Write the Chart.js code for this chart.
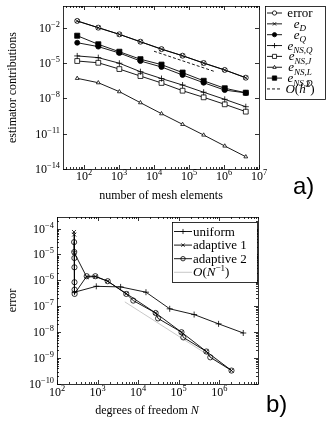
<!DOCTYPE html>
<html>
<head>
<meta charset="utf-8">
<script src="https://cdn.jsdelivr.net/npm/chart.js@4.4.0/dist/chart.umd.min.js"></script>
<style>
  html, body { margin: 0; padding: 0; background: #fff; }
  #wrap { position: relative; width: 327px; height: 425px; overflow: hidden; }
  .panel { position: absolute; left: 0; width: 327px; }
  .tag { position: absolute; font-family: "Liberation Sans", Arial, sans-serif; font-size: 24px; line-height: 24px; color: #000; }
</style>
</head>
<body>
<div id="wrap">
  <div class="panel" style="top:0;height:205px"><canvas id="topChart" width="327" height="205"></canvas></div>
  <div class="panel" style="top:205px;height:220px"><canvas id="botChart" width="327" height="220"></canvas></div>
  <div class="tag" style="left:293px;top:174px">a)</div>
  <div class="tag" style="left:266px;top:392px">b)</div>
</div>
<script>
// ---- data, panel a) ----
const meshElements = [64, 256, 1024, 4096, 16384, 65536, 262144, 1048576, 4194304];
const errorEst = [4.0e-2, 1.07e-2, 2.9e-3, 6.8e-4, 1.6e-4, 4.4e-5, 1.05e-5, 2.7e-6, 5.9e-7];
const eD = [3.9e-2, 1.05e-2, 2.85e-3, 6.7e-4, 1.58e-4, 4.3e-5, 1.03e-5, 2.65e-6, 5.8e-7];
const eQ = [5.6e-4, 2.6e-4, 7.4e-5, 1.55e-5, 4.8e-6, 1.0e-6, 2.2e-7, 5.2e-8, 3.0e-8];
const eNSQ = [4.2e-5, 3.0e-5, 1.0e-5, 1.9e-6, 5.0e-7, 1.4e-7, 3.4e-8, 8.5e-9, 2.0e-9];
const eNSJ = [1.55e-5, 1.1e-5, 3.2e-6, 8.1e-7, 2.1e-7, 4.6e-8, 1.26e-8, 3.2e-9, 7.6e-10];
const eNSL = [5.2e-7, 2.2e-7, 3.8e-8, 4.4e-9, 5.1e-10, 6.3e-11, 7.8e-12, 9.1e-13, 1.1e-13];
const eNSD = [2.2e-3, 4.1e-4, 9.5e-5, 2.2e-5, 7.6e-6, 1.6e-6, 3.2e-7, 7.4e-8, 3.1e-8];
const orderH2Elems = [1.0e4, 5.6e5];
const orderH2 = [1.05e-4, 1.9e-6];
const topXExps = [2, 3, 4, 5, 6, 7];
const topYExps = [-2, -5, -8, -11, -14];

// ---- data, panel b) ----
const uniformDofs = [270, 930, 3700, 15600, 60000, 240000, 960000, 3.9e6];
const uniformErr = [3.5e-7, 5.9e-7, 5.6e-7, 3.5e-7, 8.0e-8, 4.8e-8, 2.1e-8, 9.3e-9];
const adaptive1Dofs = [262, 265, 268, 540, 880, 1780, 5100, 27000, 117000, 480000, 2.0e6];
const adaptive1Err = [7.4e-5, 5.9e-5, 1.15e-5, 1.35e-6, 1.4e-6, 9.3e-7, 3.1e-7, 5.5e-8, 1.0e-8, 1.8e-9, 3.3e-10];
const adaptive2Dofs = [264, 266, 268, 269, 270, 271, 272, 540, 880, 1780, 5100, 7600, 27000, 31000, 117000, 130000, 480000, 600000, 2.0e6];
const adaptive2Err = [3.0e-5, 1.25e-5, 7.3e-6, 3.2e-6, 8.5e-7, 4.4e-7, 3.0e-7, 1.45e-6, 1.45e-6, 9.3e-7, 3.0e-7, 1.66e-7, 5.5e-8, 3.4e-8, 1.0e-8, 6.3e-9, 1.8e-9, 1.07e-9, 3.3e-10];
const orderNDofs = [4700, 2.0e6];
const orderNErr = [1.48e-7, 3.5e-10];
const botXExps = [2, 3, 4, 5, 6];
const botYExps = [-4, -5, -6, -7, -8, -9, -10];

const SERIF = '"Liberation Serif", "Times New Roman", serif';

function fontFor(p, size) {
  const s = (p.sub || p.sup) ? size * 0.7 : size;
  return (p.it ? 'italic ' : '') + s.toFixed(1) + 'px ' + SERIF;
}

// text with sub/superscripts
function drawRich(ctx, parts, x, y, size, align) {
  let w = 0;
  parts.forEach(p => { ctx.font = fontFor(p, size); w += ctx.measureText(p.t).width; });
  let cx = align === 'center' ? x - w / 2 : align === 'right' ? x - w : x;
  ctx.textAlign = 'left';
  ctx.textBaseline = 'alphabetic';
  parts.forEach(p => {
    ctx.font = fontFor(p, size);
    const dy = p.sub ? size * 0.28 : p.sup ? -size * 0.42 : 0;
    ctx.fillText(p.t, cx, y + dy);
    cx += ctx.measureText(p.t).width;
  });
}

function expLabel(e) {
  return [{ t: '10' }, { t: String(e).replace('-', '\u2212'), sup: true }];
}

function logTickList(min, max, majorExps, minor) {
  const out = [];
  for (let e = Math.floor(Math.log10(min)); e <= Math.ceil(Math.log10(max)); e++) {
    for (let k = 1; k <= 9; k++) {
      const v = k * Math.pow(10, e);
      if (v < min * 0.999 || v > max * 1.001) continue;
      if (k === 1 && majorExps.includes(e)) out.push({ v, major: true });
      else if (minor) out.push({ v, major: false });
    }
  }
  return out;
}

function drawMarker(ctx, style, x, y, r, fill) {
  ctx.beginPath();
  if (style === 'circle') {
    ctx.arc(x, y, r, 0, Math.PI * 2);
  } else if (style === 'rect') {
    const s = r * Math.SQRT1_2;
    ctx.rect(x - s, y - s, 2 * s, 2 * s);
  } else if (style === 'triangle') {
    ctx.moveTo(x, y - r); ctx.lineTo(x + r * 0.9, y + r * 0.6); ctx.lineTo(x - r * 0.9, y + r * 0.6); ctx.closePath();
  } else if (style === 'cross') {
    ctx.moveTo(x - r, y); ctx.lineTo(x + r, y); ctx.moveTo(x, y - r); ctx.lineTo(x, y + r);
  } else if (style === 'crossRot') {
    const d = r * 0.7;
    ctx.moveTo(x - d, y - d); ctx.lineTo(x + d, y + d); ctx.moveTo(x + d, y - d); ctx.lineTo(x - d, y + d);
  }
  if (fill && style !== 'cross' && style !== 'crossRot') { ctx.fillStyle = fill; ctx.fill(); }
  ctx.stroke();
}

// box, inward tick marks, tick labels, legend
const framePlugin = {
  id: 'frame',
  afterDraw(chart, args, o) {
    const ctx = chart.ctx, a = chart.chartArea;
    const xs = chart.scales.x, ys = chart.scales.y;
    ctx.save();
    ctx.strokeStyle = '#000';
    ctx.fillStyle = '#000';
    ctx.lineWidth = 0.8;
    ctx.strokeRect(a.left + 0.5, a.top + 0.5, a.right - a.left, a.bottom - a.top);
    ctx.beginPath();
    logTickList(xs.min, xs.max, o.xExps, true).forEach(t => {
      const px = Math.round(xs.getPixelForValue(t.v)) + 0.5, len = t.major ? 4 : 2;
      ctx.moveTo(px, a.bottom); ctx.lineTo(px, a.bottom - len);
      ctx.moveTo(px, a.top); ctx.lineTo(px, a.top + len);
    });
    logTickList(ys.min, ys.max, o.yExps, o.yMinor).forEach(t => {
      const py = Math.round(ys.getPixelForValue(t.v)) + 0.5, len = t.major ? 4 : 2;
      ctx.moveTo(a.left, py); ctx.lineTo(a.left + len, py);
      ctx.moveTo(a.right, py); ctx.lineTo(a.right - len, py);
    });
    ctx.stroke();
    o.xExps.forEach(e => drawRich(ctx, expLabel(e), xs.getPixelForValue(Math.pow(10, e)), o.xLabelY, 12, 'center'));
    o.yExps.forEach(e => drawRich(ctx, expLabel(e), a.left - 3, ys.getPixelForValue(Math.pow(10, e)) + 4, 12, 'right'));
    if (o.xTitle) drawRich(ctx, o.xTitle.parts, o.xTitle.x, o.xTitle.y, 12, 'center');

    // legend
    const L = o.legend;
    ctx.fillStyle = '#fff';
    ctx.fillRect(L.box[0], L.box[1], L.box[2] - L.box[0], L.box[3] - L.box[1]);
    ctx.strokeStyle = '#000';
    ctx.lineWidth = 0.8;
    ctx.strokeRect(L.box[0] + 0.5, L.box[1] + 0.5, L.box[2] - L.box[0], L.box[3] - L.box[1]);
    L.items.forEach((it, i) => {
      const y = L.y0 + i * L.step;
      const ds = chart.data.datasets[it.ds];
      ctx.strokeStyle = ds.borderColor;
      ctx.lineWidth = ds.borderWidth;
      ctx.setLineDash(ds.borderDash || []);
      ctx.beginPath();
      ctx.moveTo(L.sample[0], y); ctx.lineTo(L.sample[1], y);
      ctx.stroke();
      ctx.setLineDash([]);
      if (ds.pointStyle) {
        ctx.lineWidth = 0.8;
        drawMarker(ctx, ds.pointStyle, (L.sample[0] + L.sample[1]) / 2, y, ds.pointRadius * 0.85, ds.pointBackgroundColor);
      }
      ctx.fillStyle = '#000';
      drawRich(ctx, it.label, L.textX, y + 4, 13, L.align);
    });
    ctx.restore();
  }
};

function series(label, xs, ys, st) {
  return {
    label,
    data: xs.map((x, i) => ({ x, y: ys[i] })),
    borderColor: st.color || '#000',
    borderWidth: st.width || 0.9,
    borderDash: st.dash || [],
    pointStyle: st.point || false,
    pointRadius: st.point ? (st.radius || 2.5) : 0,
    pointBorderWidth: 0.8,
    pointBackgroundColor: st.fill || 'rgba(0,0,0,0)',
    pointBorderColor: st.color || '#000',
    tension: 0
  };
}

function logAxis(min, max, size, title, axis) {
  return {
    type: 'logarithmic',
    min, max,
    bounds: 'data',
    grid: { display: false },
    border: { display: false },
    ticks: { display: false },
    title: title ? {
      display: true, text: title.text, color: '#000',
      font: { family: SERIF, size: 12 },
      padding: { top: title.pad, bottom: title.pad }
    } : { display: false },
    afterFit: s => { if (axis === 'x') s.height = size; else s.width = size; }
  };
}

const common = {
  responsive: false,
  animation: false,
  devicePixelRatio: 1,
  events: [],
  plugins: { legend: { display: false }, tooltip: { enabled: false } }
};

const bigO = [{ t: 'O', it: true }];

// ---- panel a) ----
new Chart(document.getElementById('topChart'), {
  type: 'line',
  data: {
    datasets: [
      series('e_D', meshElements, eD, { point: 'crossRot', radius: 2.8 }),
      series('error', meshElements, errorEst, { point: 'circle', fill: '#fff' }),
      series('e_NS,D', meshElements, eNSD, { point: 'rect', radius: 3.6, fill: '#000' }),
      series('e_Q', meshElements, eQ, { point: 'circle', fill: '#000' }),
      series('e_NS,Q', meshElements, eNSQ, { point: 'cross', radius: 3 }),
      series('e_NS,J', meshElements, eNSJ, { point: 'rect', radius: 3.4, fill: '#fff' }),
      series('e_NS,L', meshElements, eNSL, { point: 'triangle', radius: 2.2, fill: '#fff' }),
      series('O(h^2)', orderH2Elems, orderH2, { dash: [3, 2] })
    ]
  },
  options: {
    ...common,
    layout: { padding: { left: 0, right: 68, top: 6, bottom: 0 } },
    scales: {
      x: logAxis(Math.pow(10, 1.4), 1e7, 36, { text: 'number of mesh elements', pad: 2 }, 'x'),
      y: logAxis(1e-14, 0.745, 63, { text: 'estimator contributions', pad: 6 }, 'y')
    },
    plugins: {
      ...common.plugins,
      frame: {
        xExps: topXExps, yExps: topYExps, yMinor: false, xLabelY: 180,
        legend: {
          box: [265, 6, 325, 99], y0: 13, step: 10.85, sample: [267, 282], textX: 300, align: 'center',
          items: [
            { ds: 1, label: [{ t: 'error' }] },
            { ds: 0, label: [{ t: 'e', it: true }, { t: 'D', it: true, sub: true }] },
            { ds: 3, label: [{ t: 'e', it: true }, { t: 'Q', it: true, sub: true }] },
            { ds: 4, label: [{ t: 'e', it: true }, { t: 'NS,Q', it: true, sub: true }] },
            { ds: 5, label: [{ t: 'e', it: true }, { t: 'NS,J', it: true, sub: true }] },
            { ds: 6, label: [{ t: 'e', it: true }, { t: 'NS,L', it: true, sub: true }] },
            { ds: 2, label: [{ t: 'e', it: true }, { t: 'NS,D', it: true, sub: true }] },
            { ds: 7, label: [...bigO, { t: '(' }, { t: 'h', it: true }, { t: '2', sup: true }, { t: ')' }] }
          ]
        }
      }
    }
  },
  plugins: [framePlugin]
});

// ---- panel b) ----
new Chart(document.getElementById('botChart'), {
  type: 'line',
  data: {
    datasets: [
      series('adaptive 1', adaptive1Dofs, adaptive1Err, { point: 'crossRot', radius: 2.8 }),
      series('adaptive 2', adaptive2Dofs, adaptive2Err, { point: 'circle', radius: 2.6, fill: 'rgba(0,0,0,0)' }),
      series('uniform', uniformDofs, uniformErr, { point: 'cross', radius: 3 }),
      series('O(N^-1)', orderNDofs, orderNErr, { color: '#b0b0b0', width: 0.7 })
    ]
  },
  options: {
    ...common,
    layout: { padding: { left: 0, right: 69, top: 12, bottom: 0 } },
    scales: {
      x: logAxis(100, 9e6, 41, null, 'x'),
      y: logAxis(1e-10, 2.8e-4, 57, { text: 'error', pad: 6 }, 'y')
    },
    plugins: {
      ...common.plugins,
      frame: {
        xExps: botXExps, yExps: botYExps, yMinor: true, xLabelY: 191,
        xTitle: { x: 147, y: 209, parts: [{ t: 'degrees of freedom ' }, { t: 'N', it: true }] },
        legend: {
          box: [172, 17, 257, 77], y0: 26.5, step: 13.6, sample: [174, 192], textX: 193, align: 'left',
          items: [
            { ds: 2, label: [{ t: 'uniform' }] },
            { ds: 0, label: [{ t: 'adaptive 1' }] },
            { ds: 1, label: [{ t: 'adaptive 2' }] },
            { ds: 3, label: [...bigO, { t: '(' }, { t: 'N', it: true }, { t: '\u22121', sup: true }, { t: ')' }] }
          ]
        }
      }
    }
  },
  plugins: [framePlugin]
});
</script>
</body>
</html>
